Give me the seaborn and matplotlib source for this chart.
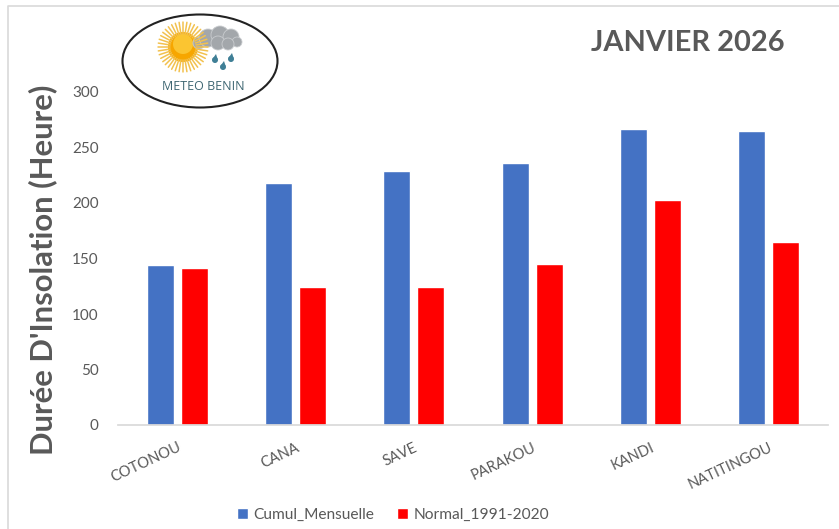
import matplotlib
matplotlib.use("Agg")
import matplotlib.pyplot as plt
import numpy as np
import pandas as pd
import seaborn as sns
from matplotlib.patches import Circle, Ellipse, Polygon

stations = ["COTONOU", "CANA", "SAVE", "PARAKOU", "KANDI", "NATITINGOU"]
cumul = [144, 218, 229, 236, 267, 265]
normale = [141, 124, 124, 145, 203, 165]
yticks = [0, 50, 100, 150, 200, 250, 300]

W, H = 839, 529
GRIS = "#595959"

df = pd.DataFrame({
    "station": stations * 2,
    "duree": cumul + normale,
    "serie": ["Cumul_Mensuelle"] * 6 + ["Normal_1991-2020"] * 6,
})

sns.set_theme(style="white")
plt.rcParams["font.family"] = ["Lato", "DejaVu Sans"]

fig = plt.figure(figsize=(W / 100, H / 100), dpi=100)
ax = fig.add_axes([118 / W, 1 - 425 / H, (828 - 118) / W, (425 - 92) / H])

sns.barplot(
    data=df, x="station", y="duree", hue="serie",
    palette={"Cumul_Mensuelle": "#4472C4", "Normal_1991-2020": "#FF0000"},
    width=0.575, gap=0.206, saturation=1, ax=ax,
)

ax.set_xlim(-0.5, 5.5)
ax.set_ylim(0, 300)
ax.set_yticks(yticks)
ax.set_xlabel("")
ax.set_ylabel("")
ax.tick_params(axis="y", length=0, colors=GRIS, labelsize=11, pad=14)
ax.tick_params(axis="x", length=0, colors=GRIS, labelsize=10.5, pad=11)
for lab in ax.get_xticklabels():
    lab.set_rotation(25)
    lab.set_ha("right")
    lab.set_rotation_mode("anchor")
sns.despine(ax=ax, left=True)
ax.spines["bottom"].set_color("#D9D9D9")
ax.patch.set_alpha(0)

handles, labels = ax.get_legend_handles_labels()
ax.legend(
    handles, labels, ncol=2, frameon=False, fontsize=11.2, labelcolor=GRIS,
    handlelength=0.7, handleheight=0.7, handletextpad=0.35, columnspacing=1.5,
    loc="center", bbox_to_anchor=(393 / W, 1 - 515 / H), bbox_transform=fig.transFigure,
)

fig.text(43 / W, 1 - 270 / H, "Durée D'Insolation (Heure)", rotation=90, ha="center",
         va="center", fontsize=22.3, fontweight="bold", color=GRIS)
fig.text(688 / W, 1 - 43 / H, "JANVIER 2026", ha="center", va="center",
         fontsize=20.9, fontweight="bold", color=GRIS)

# cadre de l'image et logo, en coordonnees pixel
over = fig.add_axes([0, 0, 1, 1], zorder=-1)
over.set_xlim(0, W)
over.set_ylim(H, 0)
over.axis("off")
over.plot([8, 8, W], [H, 6, 6], color="#D9D9D9", lw=1.2)

logo = fig.add_axes([0, 0, 1, 1], zorder=3)
logo.set_xlim(0, W)
logo.set_ylim(H, 0)
logo.axis("off")
logo.patch.set_alpha(0)
logo.add_patch(Ellipse((200, 61), 155, 93, fc="white", ec="#222222", lw=1.5))
for a in np.linspace(0, 2 * np.pi, 40, endpoint=False):
    logo.plot([183 + 13 * np.cos(a), 183 + 25 * np.cos(a)],
              [47 + 13 * np.sin(a), 47 + 25 * np.sin(a)], color="#F2C14E", lw=1.1)
logo.add_patch(Circle((183, 47), 15, fc="#F7A600", ec="none"))
logo.add_patch(Circle((183, 44), 10, fc="#FBC531", ec="none"))
for cx, cy, r in [(199, 43, 6), (208, 38, 9), (220, 35, 9), (231, 37, 8),
                  (237, 42, 5), (218, 43, 7), (228, 44, 6)]:
    logo.add_patch(Circle((cx, cy), r, fc="#A3A7AB", ec="#C9CCCF", lw=0.6))
for cx, cy in [(215, 60), (231, 59), (223, 67)]:
    logo.add_patch(Circle((cx, cy), 3, fc="#3F7F96", ec="none"))
    logo.add_patch(Polygon([(cx - 2.6, cy - 1), (cx + 2.6, cy - 1), (cx + 1, cy - 6)],
                           fc="#3F7F96", ec="none"))
logo.text(203, 87, "METEO BENIN", ha="center", va="center", fontsize=9,
          color="#3E6672", family="Open Sans")

fig.savefig("out.png", dpi=100)
